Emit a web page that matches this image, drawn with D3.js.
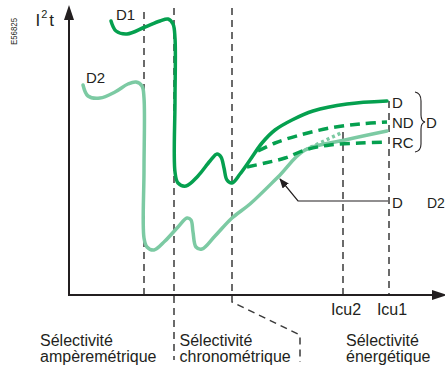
<!DOCTYPE html>
<html><head><meta charset="utf-8">
<script src="https://cdn.jsdelivr.net/npm/d3@7"></script>
<style>
body{margin:0;background:#fff}
svg{display:block}
text{font-family:"Liberation Sans",Arial,Helvetica,sans-serif;fill:#231f20}
</style>
</head><body>
<svg id="c" width="445" height="365"></svg>
<script>
// ---- data (arbitrary current / I²t units) ----
const d1Curve = [[42,274],[47,264],[58,261],[76,268],[91,274],[99,276],[104,271],[106,257],[106,195],[106,123],[109,112],[117,109],[129,119],[141,134],[148,141],[152,138],[155,127],[158,115],[163,112],[171,121],[181,135],[193,152],[206,165],[223,175],[244,184],[278,191],[318,194]];
const d1NonDelayed = [[189,144],[206,152],[231,160],[261,167],[291,171],[318,173]];
const d1Delayed = [[178,128],[196,132],[216,137],[236,145],[261,150],[291,152],[318,153]];
const d2Curve = [[14,210],[19,199],[31,197],[46,203],[59,211],[67,213],[73,209],[75,197],[75,125],[75,57],[78,48],[85,45],[96,54],[109,68],[118,77],[122,75],[124,63],[127,48],[133,46],[146,59],[163,77],[181,91],[209,118],[236,145],[276,155],[318,164]];
const d2Extension = [[236,145],[274,163]];
const zoneBoundaries = [75, 105, 163];
const icuValues = [274, 320];
const icuLabels = ["Icu2", "Icu1"];
const icuTops = [163, 194];
const zoneTitles = ["Sélectivité", "Sélectivité", "Sélectivité"];
const zoneSubtitles = ["ampèremétrique", "chronométrique", "énergétique"];
const curveLabels = ["D1", "D2"];
const endLabels = ["D", "ND", "RC"];

// ---- scales ----
const svg = d3.select("#c");
const x = d3.scaleLinear().domain([0,376]).range([69,445]);
const y = d3.scaleLinear().domain([0,290]).range([295,5]);
const ink = "#231f20", dashInk = "#3a3a3a";
const dark = "#05a04f", light = "#7ccaa3";
const line = d3.line().x(d=>x(d[0])).y(d=>y(d[1])).curve(d3.curveCatmullRom.alpha(0.5));
const straight = d3.line().x(d=>x(d[0])).y(d=>y(d[1]));

// arrow marker
svg.append("defs").append("marker").attr("id","ah")
  .attr("markerUnits","userSpaceOnUse").attr("markerWidth",10).attr("markerHeight",8)
  .attr("refX",9).attr("refY",4).attr("orient","auto")
  .append("path").attr("d","M0,0 L10,4 L0,8 Z").attr("fill",ink);

// zone boundary dashed lines
const zg = svg.append("g").attr("fill","none").attr("stroke",dashInk).attr("stroke-width",1.5).attr("stroke-dasharray","7,5");
zg.append("path").attr("d", `M${x(zoneBoundaries[0])},${y(283)} V${y(0)}`);
zg.append("path").attr("d", `M${x(zoneBoundaries[1])},${y(287)} V${y(-65)}`);
zg.append("path").attr("d", `M${x(zoneBoundaries[2])},${y(287)} V${y(-7)} L${x(231)},${y(-40)} V${y(-67)}`);
icuValues.forEach((v,i)=>{
  zg.append("path").attr("d", `M${x(v)},${y(icuTops[i])} V${y(0)}`);
});

// curves
svg.append("path").attr("d", straight(d2Extension)).attr("fill","none").attr("stroke",light)
  .attr("stroke-width",3.5).attr("stroke-dasharray","3,3");
svg.append("path").attr("d", line(d2Curve)).attr("fill","none").attr("stroke",light)
  .attr("stroke-width",3.5).attr("stroke-linecap","round").attr("stroke-linejoin","round");
svg.append("path").attr("d", line(d1NonDelayed)).attr("fill","none").attr("stroke",dark)
  .attr("stroke-width",3.5).attr("stroke-dasharray","10,6");
svg.append("path").attr("d", line(d1Delayed)).attr("fill","none").attr("stroke",dark)
  .attr("stroke-width",3.5).attr("stroke-dasharray","10,6");
svg.append("path").attr("d", line(d1Curve)).attr("fill","none").attr("stroke",dark)
  .attr("stroke-width",3.5).attr("stroke-linecap","round").attr("stroke-linejoin","round");

// annotation arrow to D2
svg.append("path").attr("d", straight([[319,94],[229,94],[211,116]]))
  .attr("fill","none").attr("stroke",ink).attr("stroke-width",1.2).attr("marker-end","url(#ah)");

// axes
svg.append("line").attr("x1",x(0)).attr("y1",y(0)).attr("x2",x(0)).attr("y2",19)
  .attr("stroke",ink).attr("stroke-width",2);
svg.append("path").attr("d","M69,5 L64,20 L74,20 Z").attr("fill",ink);
svg.append("line").attr("x1",x(0)-1).attr("y1",y(0)).attr("x2",434).attr("y2",y(0))
  .attr("stroke",ink).attr("stroke-width",2);
svg.append("path").attr("d",`M447,${y(0)} L432,${y(0)-5} L432,${y(0)+5} Z`).attr("fill",ink);

const xAxis = d3.axisBottom(x).tickValues(icuValues).tickFormat((d,i)=>icuLabels[i]).tickSize(0).tickPadding(9);
const ag = svg.append("g").attr("transform",`translate(0,${y(0)})`).call(xAxis);
ag.select(".domain").remove();
ag.selectAll("text").attr("dx",2.5).style("font-size","16px").style("font-family",'"Liberation Sans",Arial,sans-serif').attr("fill",ink);

// y title I²t
const yt = svg.append("text").attr("x",35.5).attr("y",26).style("font-size","17px");
yt.append("tspan").text("I");
yt.append("tspan").attr("dx",1).attr("dy",-8).style("font-size","11px").text("2");
yt.append("tspan").attr("dx",2).attr("dy",8).text("t");

// figure id
svg.append("text").attr("transform","translate(17,31.5) rotate(-90)").attr("text-anchor","middle")
  .style("font-size","9.5px").attr("textLength",27).attr("lengthAdjust","spacingAndGlyphs").text("E56825");

// curve labels
svg.append("text").attr("x",116).attr("y",20).style("font-size","15px").text(curveLabels[0]);
svg.append("text").attr("x",86).attr("y",83).style("font-size","15px").text(curveLabels[1]);

// end labels
[107.5,127.5,147.5].forEach((by,i)=>{
  svg.append("text").attr("x",392).attr("y",by).style("font-size","15px").text(endLabels[i]);
});
svg.append("path").attr("d","M415,92 Q421,93 421,101 L421,115 Q421,121 425,122 Q421,123 421,129 L421,144 Q421,151 415,152")
  .attr("fill","none").attr("stroke",ink).attr("stroke-width",1.1);
svg.append("text").attr("x",426).attr("y",127.5).style("font-size","15px").text("D");
svg.append("text").attr("x",392).attr("y",207.5).style("font-size","15px").text("D");
svg.append("text").attr("x",427).attr("y",207.5).style("font-size","14px").text(curveLabels[1]);

// zone labels
const zoneX = [40, 179.5, 346];
zoneTitles.forEach((t,i)=>{
  const tx = svg.append("text").attr("x",zoneX[i]).attr("y",345.5).style("font-size","16px");
  tx.append("tspan").attr("x",zoneX[i]).text(t);
  tx.append("tspan").attr("x",zoneX[i]).attr("dy",16).text(zoneSubtitles[i]);
});
</script>
</body></html>
